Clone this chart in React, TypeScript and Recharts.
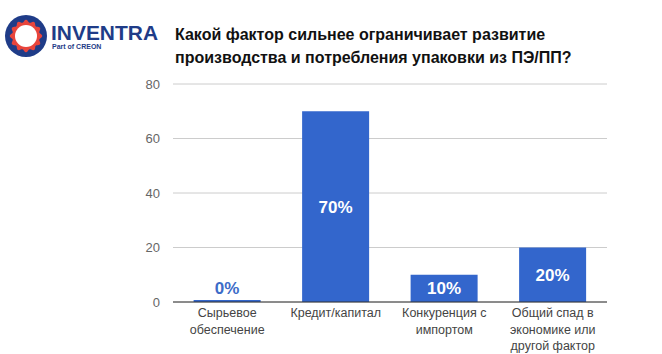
import { BarChart, Bar, XAxis, YAxis, CartesianGrid, LabelList } from 'recharts';

const categories = [
  ['Сырьевое', 'обеспечение'],
  ['Кредит/капитал'],
  ['Конкуренция с', 'импортом'],
  ['Общий спад в', 'экономике или', 'другой фактор'],
];
const shares = [0, 70, 10, 20];
const yTicks = [0, 20, 40, 60, 80];

const data = categories.map((lines, i) => ({ name: lines.join(' '), lines, value: shares[i] }));

const BLUE = '#3366cc';

function CategoryTick({ x, y, payload, index }: any) {
  const lines = categories[index] ?? [String(payload.value)];
  return (
    <text x={x} y={y} textAnchor="middle" fill="#444" fontSize={12.5} fontFamily="Liberation Sans, Arial, sans-serif">
      {lines.map((l, i) => (
        <tspan key={i} x={x} dy={i === 0 ? 7 : 16.5}>{l}</tspan>
      ))}
    </text>
  );
}

function ValueLabel({ x, y, width, height, value }: any) {
  const cx = x + width / 2;
  if (value < 5) {
    return (
      <text x={cx} y={y - 6} textAnchor="middle" fill="#3d6cc8" fontSize={17} fontWeight="bold"
        fontFamily="Liberation Sans, Arial, sans-serif">{`${value}%`}</text>
    );
  }
  return (
    <text x={cx} y={y + height / 2 + 6} textAnchor="middle" fill="#fff" fontSize={17} fontWeight="bold"
      fontFamily="Liberation Sans, Arial, sans-serif">{`${value}%`}</text>
  );
}

function Logo() {
  // scalloped red ring inside the navy circle
  const pts: string[] = [];
  const n = 12;
  for (let i = 0; i <= n * 8; i++) {
    const a = (i / (n * 8)) * Math.PI * 2;
    const r = 15 + 1.3 * Math.cos(a * n);
    pts.push(`${(26 + r * Math.cos(a)).toFixed(2)},${(36 + r * Math.sin(a)).toFixed(2)}`);
  }
  return (
    <svg width={170} height={70} style={{ position: 'absolute', left: 0, top: 0 }}>
      <circle cx={26} cy={36} r={21} fill="#1f3c88" />
      <polygon points={pts.join(' ')} fill="#e8453c" />
      <circle cx={26} cy={36} r={11} fill="#fff" />
      <text x={51} y={40} fill="#1f3c88" fontSize={21} fontWeight="900" fontFamily="Liberation Sans, Arial, sans-serif"
        textLength={107} lengthAdjust="spacingAndGlyphs">INVENTRA</text>
      <text x={52} y={49} fill="#1f3c88" fontSize={7} fontWeight="bold" fontFamily="Liberation Sans, Arial, sans-serif">
        Part of CREON
      </text>
    </svg>
  );
}

export default function App() {
  return (
    <div style={{ position: 'absolute', left: 0, top: 0, width: 662, height: 354, background: '#fff' }}>
      <Logo />
      <div style={{
        position: 'absolute', left: 175, top: 23, fontFamily: 'Liberation Sans, Arial, sans-serif',
        fontWeight: 'bold', fontSize: 16, lineHeight: '23px', color: '#111',
      }}>
        Какой фактор сильнее ограничивает развитие<br />
        производства и потребления упаковки из ПЭ/ПП?
      </div>
      <BarChart width={662} height={354} data={data} margin={{ top: 84, right: 55, bottom: 0, left: 133 }}
        barCategoryGap="19%">
        <CartesianGrid horizontal vertical={false} stroke="#cccccc" />
        <XAxis dataKey="name" height={52} tick={<CategoryTick />} tickLine={false} axisLine={{ stroke: '#333' }}
          interval={0} />
        <YAxis domain={[0, 80]} ticks={yTicks} width={40} axisLine={false} tickLine={false} tickMargin={7}
          tick={{ fill: '#666', fontSize: 13, fontFamily: 'Liberation Sans, Arial, sans-serif' }} />
        <Bar dataKey="value" fill={BLUE} minPointSize={2} isAnimationActive={false}>
          <LabelList dataKey="value" content={<ValueLabel />} />
        </Bar>
      </BarChart>
    </div>
  );
}
